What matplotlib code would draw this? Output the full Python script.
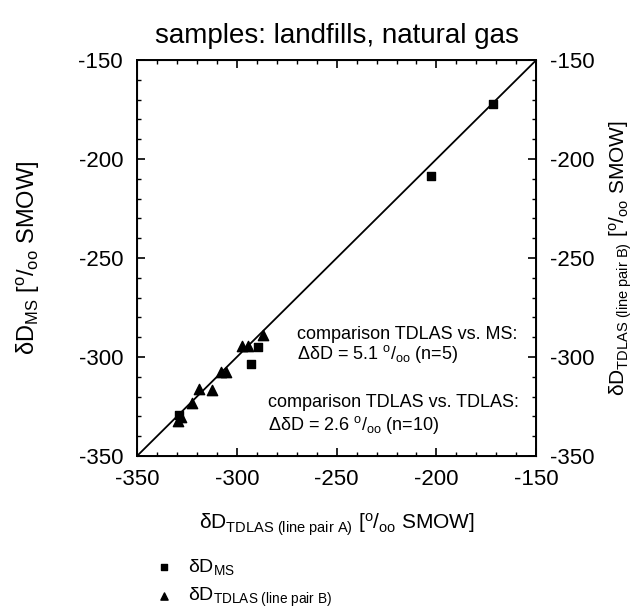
import numpy as np
import matplotlib
matplotlib.use("Agg")
import matplotlib.pyplot as plt
from matplotlib.ticker import MultipleLocator

plt.rcParams["font.family"] = ["Liberation Sans", "DejaVu Sans"]
plt.rcParams["mathtext.fontset"] = "custom"
plt.rcParams["mathtext.rm"] = "Liberation Sans"
plt.rcParams["mathtext.it"] = "Liberation Sans:italic"
plt.rcParams["mathtext.bf"] = "Liberation Sans:bold"
plt.rcParams["axes.unicode_minus"] = False

# delta D values (per mil SMOW)
ms_x = [-171.5, -202.8, -289.2, -292.9, -329.0]
ms_y = [-172.4, -208.7, -294.8, -303.6, -329.5]

tdlas_b_x = [-287.0, -297.2, -294.2, -307.9, -305.4, -318.8, -312.6, -322.6, -327.9, -329.3]
tdlas_b_y = [-288.7, -294.3, -294.3, -307.3, -307.3, -316.2, -316.7, -323.0, -330.3, -332.3]

axis_range = [-350, -150]

permil = r"$^{\mathrm{o}}/_{\mathrm{oo}}$"

fig = plt.figure(figsize=(6.43, 6.13), dpi=100)
ax = fig.add_axes([0.213, 0.256, 0.621, 0.646])

ax.plot(axis_range, axis_range, color="black", linewidth=1.3, zorder=1)
ax.scatter(ms_x, ms_y, marker="s", s=38, color="black", zorder=3,
           label=r"δD$_{\mathrm{MS}}$")
ax.scatter(tdlas_b_x, tdlas_b_y, marker="^", s=55, color="black", zorder=3,
           label=r"δD$_{\mathrm{TDLAS\ (line\ pair\ B)}}$")

ax.set_xlim(axis_range)
ax.set_ylim(axis_range)
ax.xaxis.set_major_locator(MultipleLocator(50))
ax.xaxis.set_minor_locator(MultipleLocator(10))
ax.yaxis.set_major_locator(MultipleLocator(50))
ax.yaxis.set_minor_locator(MultipleLocator(10))
ax.tick_params(which="both", direction="in", top=True, right=True, labelsize=16)
ax.tick_params(which="major", length=6, width=1.2)
ax.tick_params(which="minor", length=3, width=1)
ax.tick_params(axis="y", pad=10)
ax.tick_params(axis="x", pad=9)
for s in ax.spines.values():
    s.set_linewidth(1.4)

ax2 = ax.twinx()
ax2.set_ylim(axis_range)
ax2.yaxis.set_major_locator(MultipleLocator(50))
ax2.yaxis.set_minor_locator(MultipleLocator(10))
ax2.tick_params(which="both", direction="in", labelsize=16, pad=10)
ax2.tick_params(which="major", length=6, width=1.2)
ax2.tick_params(which="minor", length=3, width=1)

ax.set_xlabel(r"δD$_{\mathrm{TDLAS\ (line\ pair\ A)}}$ [" + permil + " SMOW]",
              fontsize=15, labelpad=16)
ax.set_ylabel(r"δD$_{\mathrm{MS}}$ [" + permil + " SMOW]", fontsize=17, labelpad=26)
ax2.set_ylabel(r"δD$_{\mathrm{TDLAS\ (line\ pair\ B)}}$ [" + permil + " SMOW]",
               fontsize=15, labelpad=9)
ax.set_title("samples: landfills, natural gas", fontsize=20, pad=12)

ax.text(0.40, 0.306, "comparison TDLAS vs. MS:", transform=ax.transAxes,
        ha="left", va="center", fontsize=13)
ax.text(0.40, 0.258, "ΔδD = 5.1 " + permil + " (n=5)", transform=ax.transAxes,
        ha="left", va="center", fontsize=13)
ax.text(0.328, 0.136, "comparison TDLAS vs. TDLAS:", transform=ax.transAxes,
        ha="left", va="center", fontsize=13)
ax.text(0.328, 0.078, "ΔδD = 2.6 " + permil + " (n=10)", transform=ax.transAxes,
        ha="left", va="center", fontsize=13)

fig.legend(loc="lower left", bbox_to_anchor=(0.205, -0.022), frameon=False,
           fontsize=14, handletextpad=0.5, handlelength=1.5,
           markerscale=0.7, labelspacing=0.45)

fig.savefig("out.png", dpi=100)
